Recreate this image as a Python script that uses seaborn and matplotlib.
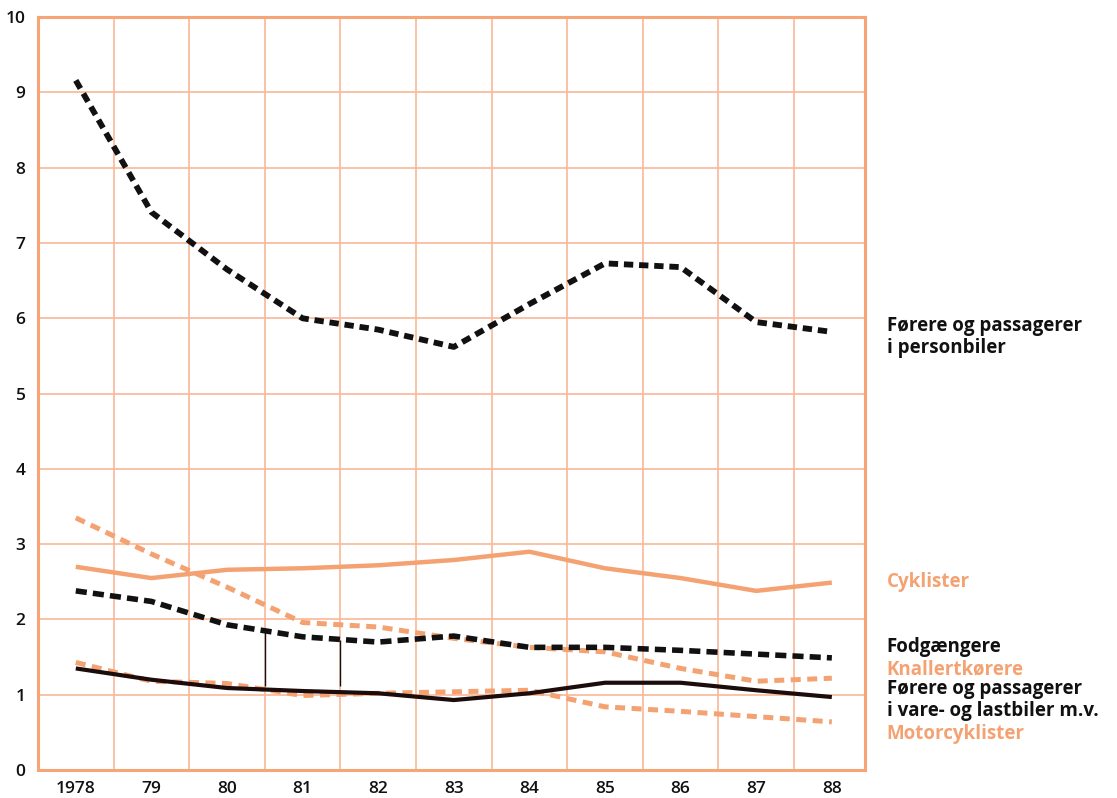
import pandas as pd
import seaborn as sns
import matplotlib.pyplot as plt
from matplotlib.ticker import FixedLocator

years = [1978, 1979, 1980, 1981, 1982, 1983, 1984, 1985, 1986, 1987, 1988]
year_labels = ["1978", "79", "80", "81", "82", "83", "84", "85", "86", "87", "88"]

personbiler = [9.16, 7.41, 6.65, 6.00, 5.85, 5.62, 6.19, 6.73, 6.68, 5.95, 5.82]
cyklister = [2.70, 2.55, 2.66, 2.68, 2.72, 2.79, 2.90, 2.68, 2.55, 2.38, 2.49]
knallert = [3.35, 2.87, 2.43, 1.96, 1.90, 1.75, 1.63, 1.57, 1.35, 1.18, 1.22]
fodgaengere = [2.38, 2.24, 1.93, 1.77, 1.70, 1.78, 1.63, 1.63, 1.59, 1.54, 1.49]
lastbiler = [1.35, 1.20, 1.09, 1.05, 1.02, 0.93, 1.02, 1.16, 1.16, 1.06, 0.97]
motorcykel = [1.43, 1.18, 1.15, 0.99, 1.02, 1.04, 1.06, 0.84, 0.78, 0.71, 0.64]

# thin leader lines seen in the original print
leader_x = [1980.5, 1981.5]
leader_top = [1.84, 1.73]
leader_bottom = [1.12, 1.12]

black = "#111111"
orange = "#f4a272"
grid_orange = "#f9b896"

sns.set_style("white")
plt.rcParams["font.family"] = ["Open Sans", "DejaVu Sans"]

fig = plt.figure(figsize=(11.17, 7.98), dpi=100)
ax = fig.add_axes([0.034, 0.035, 0.7405, 0.9435])

series = [
    (personbiler, black, 4.2, (1.6, 1.0)),
    (cyklister, orange, 3.2, None),
    (knallert, orange, 3.6, (2.0, 1.3)),
    (fodgaengere, black, 4.0, (2.0, 1.1)),
    (motorcykel, orange, 3.6, (2.0, 1.3)),
    (lastbiler, "#1c0c0c", 3.0, None),
]
for vals, col, lw, dash in series:
    df = pd.DataFrame({"year": years, "value": vals})
    sns.lineplot(data=df, x="year", y="value", color=col, linewidth=lw, ax=ax)
    line = ax.lines[-1]
    line.set_solid_capstyle("butt")
    if dash is not None:
        line.set_dashes(dash)
        line.set_dash_capstyle("butt")

ax.vlines(leader_x, leader_bottom, leader_top, color=black, linewidth=1.0)

ax.set_xlim(1977.5, 1988.44)
ax.set_ylim(0, 10)
ax.set_xticks(years)
ax.set_xticklabels(year_labels)
ax.xaxis.set_minor_locator(FixedLocator([y + 0.5 for y in years[:-1]]))
ax.set_yticks(range(0, 11))
ax.set_xlabel("")
ax.set_ylabel("")

ax.grid(False)
ax.grid(True, axis="y", which="major", color=grid_orange, linewidth=1.2)
ax.grid(True, axis="x", which="minor", color=grid_orange, linewidth=1.2)
ax.set_axisbelow(True)
for s in ax.spines.values():
    s.set_visible(True)
    s.set_color("#f6a577")
    s.set_linewidth(2.2)

ax.tick_params(axis="both", which="both", length=0, labelsize=12.5,
               labelcolor="#111111")
ax.tick_params(axis="x", pad=8)
ax.tick_params(axis="y", pad=9)
for t in ax.get_xticklabels() + ax.get_yticklabels():
    t.set_fontweight("semibold")

labels = [
    ("Førere og passagerer\ni personbiler", 5.75, black),
    ("Cyklister", 2.50, orange),
    ("Fodgængere", 1.63, black),
    ("Knallertkørere", 1.33, orange),
    ("Førere og passagerer\ni vare- og lastbiler m.v.", 0.93, black),
    ("Motorcyklister", 0.48, orange),
]
for txt, yv, col in labels:
    ax.annotate(txt, xy=(1.026, yv), xycoords=("axes fraction", "data"),
                ha="left", va="center", fontsize=13.5, fontweight="bold",
                color=col, linespacing=1.1, annotation_clip=False)

plt.savefig("out.png", dpi=100)
